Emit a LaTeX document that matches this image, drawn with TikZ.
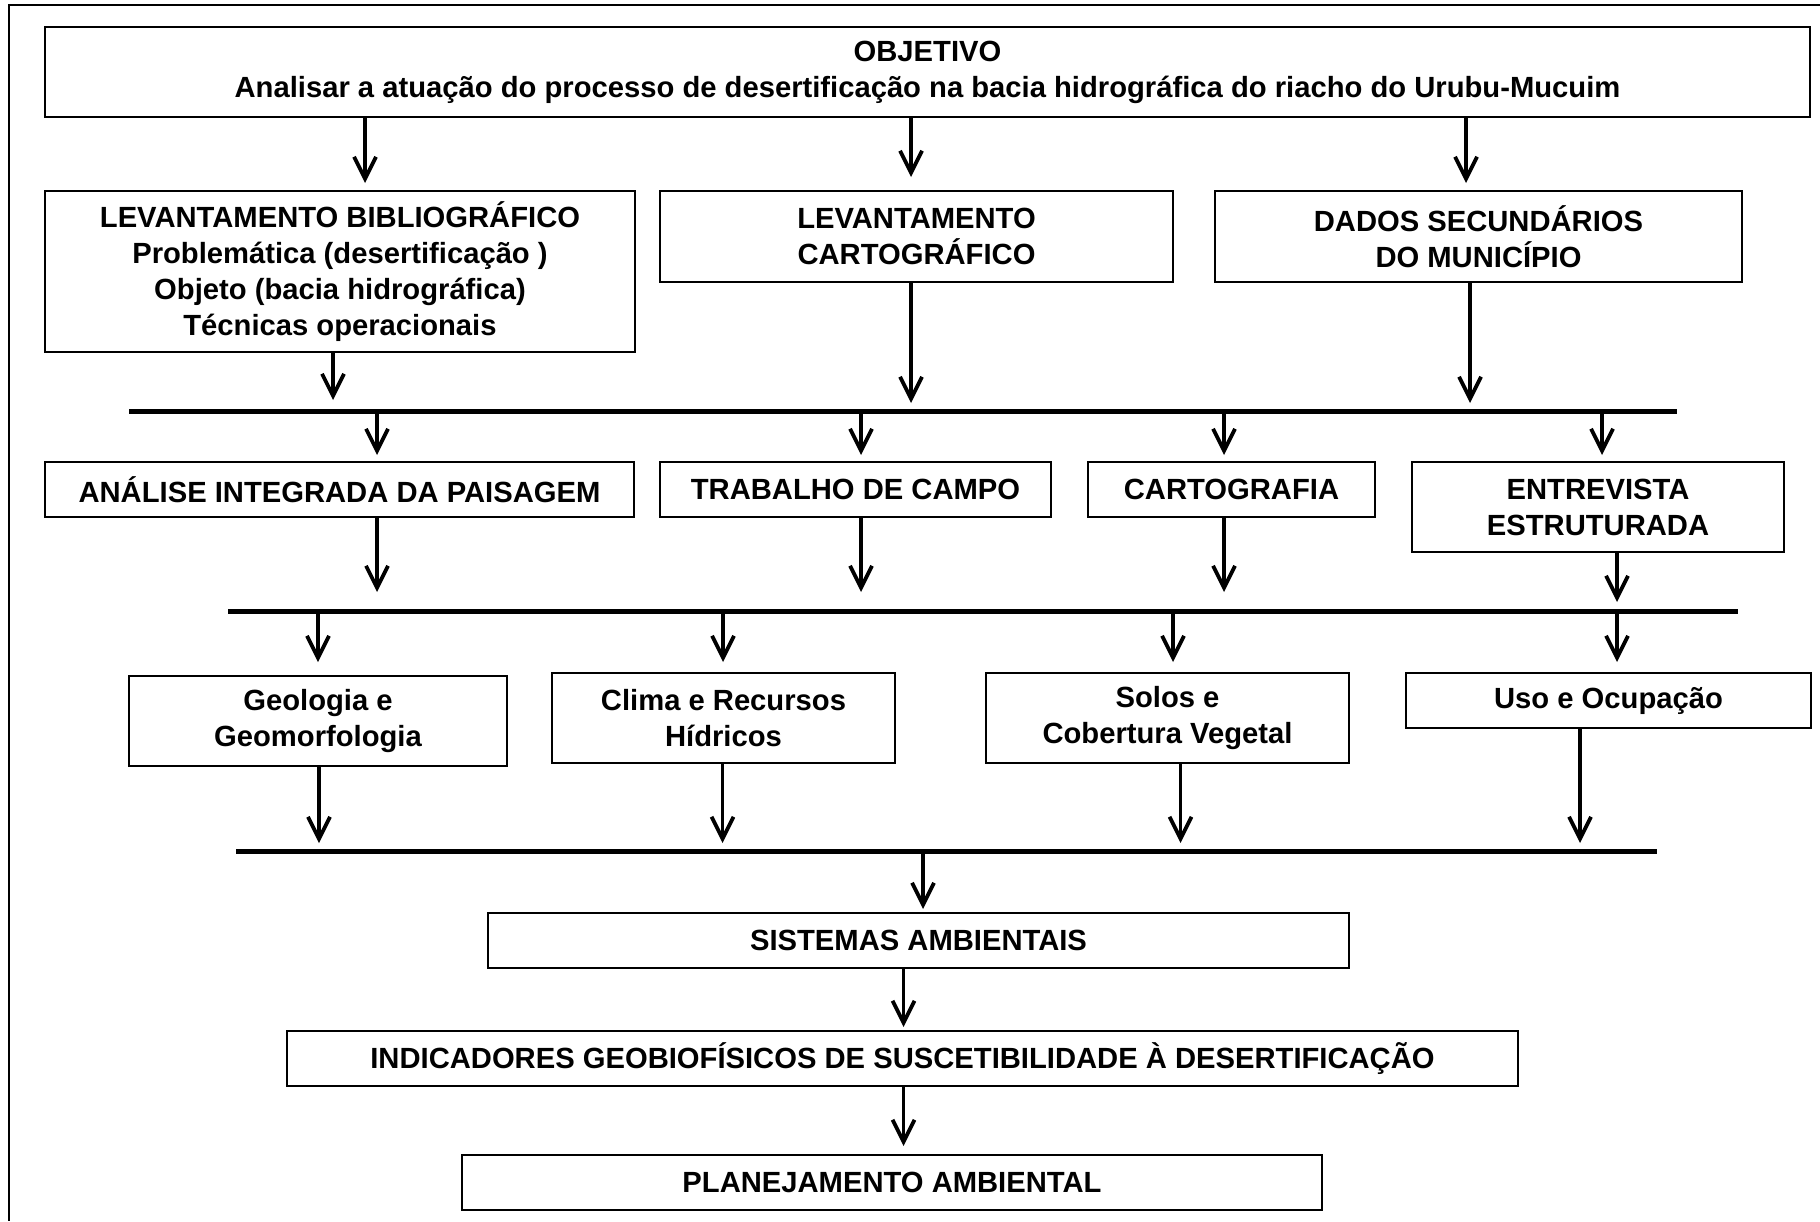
\documentclass[tikz,border=0pt]{standalone}
\usepackage{fontspec}
\setmainfont{Liberation Sans}
\usetikzlibrary{arrows.meta}
\tikzset{
  box/.style={draw, line width=1pt, align=center, inner sep=0pt,
    font=\fontsize{14.6}{18}\selectfont\bfseries},
  bx/.style 2 args={minimum width=#1*0.5pt, minimum height=#2*0.5pt},
  arr/.style={line width=1.9pt, -{Straight Barb[length=11pt,width=11pt]}},
  busline/.style={line width=2.3pt},
  frameline/.style={line width=1.3pt}
}
\begin{document}
\begin{tikzpicture}[x=0.5pt,y=-0.5pt]
\useasboundingbox (0,0) rectangle (1820,1221);
% outer frame (only top and left visible)
\coordinate (fr1) at (1820,5);
\coordinate (fr2) at (9,5);
\coordinate (fr3) at (9,1221);
\draw[frameline] (fr1) -- (fr2) -- (fr3);

% boxes
\node[box, bx={1765}{90}] (obj) at (927.5,72) {OBJETIVO\\Analisar a atuação do processo de desertificação na bacia hidrográfica do riacho do Urubu-Mucuim};
\node[box, bx={590}{161}] (levbib) at (340,271.5) {LEVANTAMENTO BIBLIOGRÁFICO\\Problemática (desertificação )\\Objeto (bacia hidrográfica)\\Técnicas operacionais};
\node[box, bx={513}{91}] (levcart) at (916.5,236.5) {LEVANTAMENTO\\CARTOGRÁFICO};
\node[box, bx={527}{91}] (dados) at (1478.5,236.5) {DADOS SECUNDÁRIOS\\DO MUNICÍPIO};
\node[box, bx={589}{55}] (analise) at (339.5,489.5) {ANÁLISE INTEGRADA DA PAISAGEM};
\node[box, bx={391}{55}] (trabalho) at (855.5,489.5) {TRABALHO DE CAMPO};
\node[box, bx={287}{55}] (carto) at (1231.5,489.5) {CARTOGRAFIA};
\node[box, bx={372}{90}] (entrev) at (1598,507) {ENTREVISTA\\ESTRUTURADA};
\node[box, bx={378}{90}] (geo) at (318,721) {Geologia e\\Geomorfologia};
\node[box, bx={343}{90}] (clima) at (723.5,718) {Clima e Recursos\\Hídricos};
\node[box, bx={363}{90}] (solos) at (1167.5,718) {Solos e\\Cobertura Vegetal};
\node[box, bx={405}{55}] (uso) at (1608.5,700.5) {Uso e Ocupação};
\node[box, bx={861}{55}] (sist) at (918.5,940.5) {SISTEMAS AMBIENTAIS};
\node[box, bx={1231}{55}] (indic) at (902.5,1058.5) {INDICADORES GEOBIOFÍSICOS DE SUSCETIBILIDADE À DESERTIFICAÇÃO};
\node[box, bx={860}{55}] (plan) at (892,1182.5) {PLANEJAMENTO AMBIENTAL};

% buses
\coordinate (b1l) at (129,411.7); \coordinate (b1r) at (1677,411.7);
\coordinate (b2l) at (228,611.7); \coordinate (b2r) at (1738,611.7);
\coordinate (b3l) at (236,851.7); \coordinate (b3r) at (1657,851.7);
\draw[busline] (b1l) -- (b1r);
\draw[busline] (b2l) -- (b2r);
\draw[busline] (b3l) -- (b3r);

% tips
\coordinate (t1) at (365,183);
\coordinate (t2) at (911,177);
\coordinate (t3) at (1466,183);
\coordinate (t4) at (333,400);
\coordinate (t5) at (911,403);
\coordinate (t6) at (1470,403);
\coordinate (t7) at (377,455);
\coordinate (t8) at (861,455);
\coordinate (t9) at (1224,455);
\coordinate (t10) at (1602,455);
\coordinate (t11) at (377,592);
\coordinate (t12) at (861,592);
\coordinate (t13) at (1224,592);
\coordinate (t14) at (1617,602);
\coordinate (t15) at (318,662);
\coordinate (t16) at (723,662);
\coordinate (t17) at (1173,662);
\coordinate (t18) at (1617,662);
\coordinate (t19) at (319,843);
\coordinate (t20) at (722.5,843);
\coordinate (t21) at (1180.5,843);
\coordinate (t22) at (1580,843);
\coordinate (t23) at (923,909);
\coordinate (t24) at (903.5,1027);
\coordinate (t25) at (903.5,1146);

% connectors
\draw[arr] (obj.south -| t1) -- (t1);
\draw[arr] (obj.south -| t2) -- (t2);
\draw[arr] (obj.south -| t3) -- (t3);
\draw[arr] (levbib.south -| t4) -- (t4);
\draw[arr] (levcart.south -| t5) -- (t5);
\draw[arr] (dados.south -| t6) -- (t6);
\draw[arr] (t7 |- b1l) -- (t7);
\draw[arr] (t8 |- b1l) -- (t8);
\draw[arr] (t9 |- b1l) -- (t9);
\draw[arr] (t10 |- b1l) -- (t10);
\draw[arr] (analise.south -| t11) -- (t11);
\draw[arr] (trabalho.south -| t12) -- (t12);
\draw[arr] (carto.south -| t13) -- (t13);
\draw[arr] (entrev.south -| t14) -- (t14);
\draw[arr] (t15 |- b2l) -- (t15);
\draw[arr] (t16 |- b2l) -- (t16);
\draw[arr] (t17 |- b2l) -- (t17);
\draw[arr] (t18 |- b2l) -- (t18);
\draw[arr] (geo.south -| t19) -- (t19);
\draw[arr] (clima.south -| t20) -- (t20);
\draw[arr] (solos.south -| t21) -- (t21);
\draw[arr] (uso.south -| t22) -- (t22);
\draw[arr] (t23 |- b3l) -- (t23);
\draw[arr] (sist.south -| t24) -- (t24);
\draw[arr] (indic.south -| t25) -- (t25);
\end{tikzpicture}
\end{document}
